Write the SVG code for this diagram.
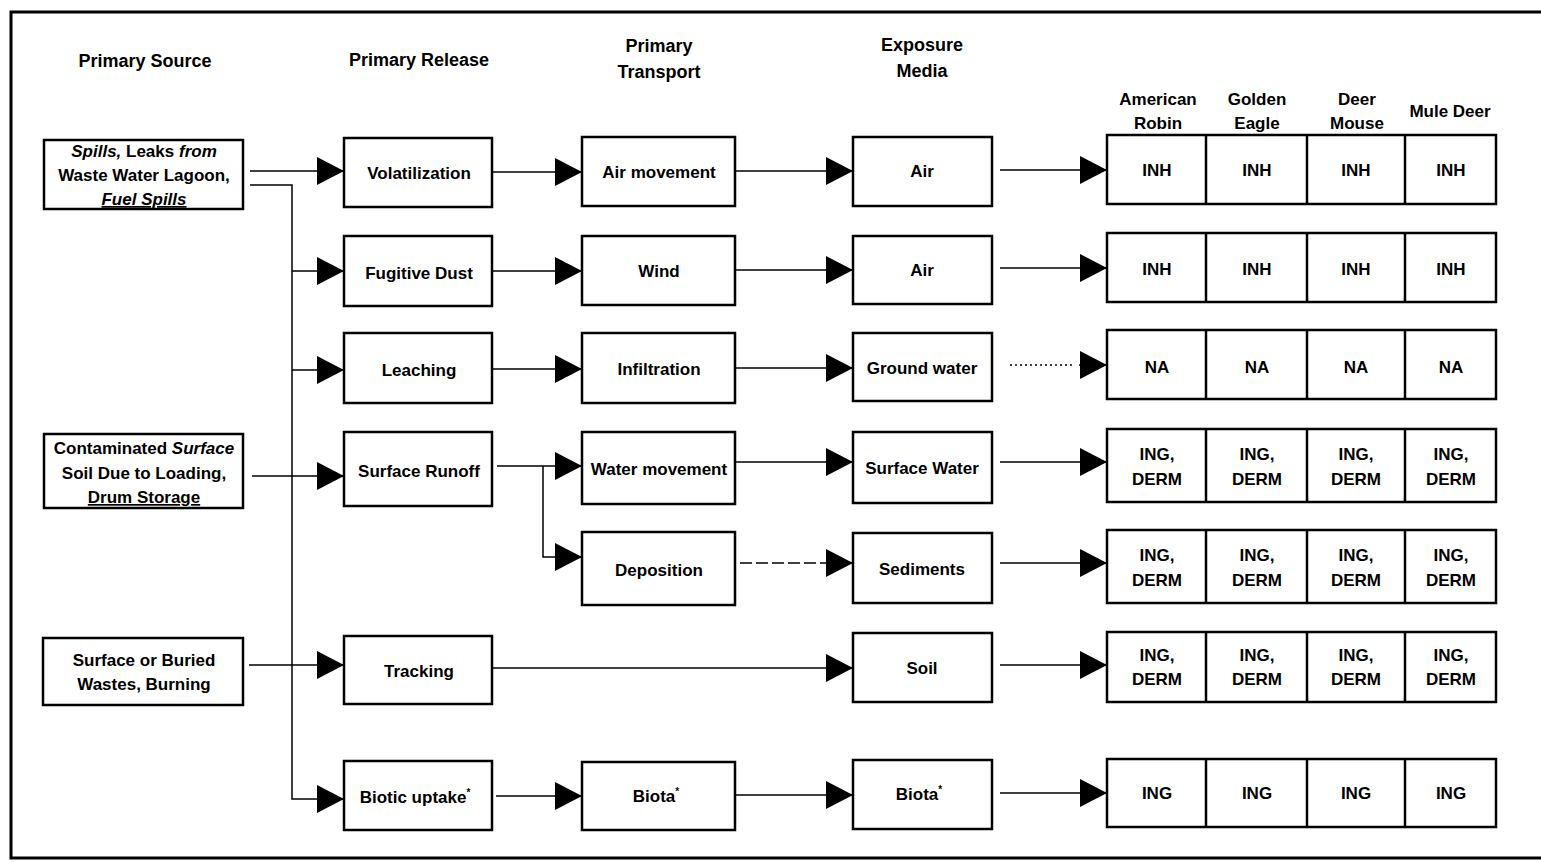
<svg xmlns="http://www.w3.org/2000/svg" width="1541" height="862" viewBox="0 0 1541 862">
<style>
  text { font-family: "Liberation Sans", Arial, sans-serif; font-weight: bold; fill: #000; text-anchor: middle; }
  .hd { font-size: 18px; }
  .rh { font-size: 17px; }
  .t { font-size: 17px; }
  .box { fill: #fff; stroke: #000; stroke-width: 2.5; }
  .cell { fill: none; stroke: #000; stroke-width: 2.5; }
  .ln { fill: none; stroke: #000; stroke-width: 1.5; }
  .it { font-style: italic; }
  .ul { text-decoration: underline; }
  .sup { font-size: 10px; }
</style>
<defs>
  <marker id="ah" markerUnits="userSpaceOnUse" markerWidth="27" markerHeight="28" refX="27" refY="14" orient="auto">
    <path d="M0,0 L27,14 L0,28 Z" fill="#000"/>
  </marker>
</defs>
<rect x="11" y="12" width="1540" height="846" fill="none" stroke="#000" stroke-width="3"/>

<g id="headers">
  <text class="hd" x="145" y="67">Primary Source</text>
  <text class="hd" x="419" y="66">Primary Release</text>
  <text class="hd" x="659" y="52">Primary</text>
  <text class="hd" x="659" y="78">Transport</text>
  <text class="hd" x="922" y="51">Exposure</text>
  <text class="hd" x="922" y="77">Media</text>
  <text class="rh" x="1158" y="105">American</text>
  <text class="rh" x="1158" y="129">Robin</text>
  <text class="rh" x="1257" y="105">Golden</text>
  <text class="rh" x="1257" y="129">Eagle</text>
  <text class="rh" x="1357" y="105">Deer</text>
  <text class="rh" x="1357" y="129">Mouse</text>
  <text class="rh" x="1450" y="117">Mule Deer</text>
</g>

<g id="connectors">
  <!-- sources to releases -->
  <line class="ln" x1="250" y1="171" x2="344" y2="171" marker-end="url(#ah)"/>
  <polyline class="ln" points="250,185 292,185 292,799 344,799" marker-end="url(#ah)"/>
  <line class="ln" x1="292" y1="271" x2="344" y2="271" marker-end="url(#ah)"/>
  <line class="ln" x1="292" y1="370" x2="344" y2="370" marker-end="url(#ah)"/>
  <line class="ln" x1="252" y1="476" x2="344" y2="476" marker-end="url(#ah)"/>
  <line class="ln" x1="249" y1="665" x2="344" y2="665" marker-end="url(#ah)"/>
  <!-- releases to transport -->
  <line class="ln" x1="492" y1="172" x2="582" y2="172" marker-end="url(#ah)"/>
  <line class="ln" x1="492" y1="271" x2="582" y2="271" marker-end="url(#ah)"/>
  <line class="ln" x1="492" y1="369" x2="582" y2="369" marker-end="url(#ah)"/>
  <polyline class="ln" points="497,466 582,466" marker-end="url(#ah)"/>
  <polyline class="ln" points="543,466 543,557 582,557" marker-end="url(#ah)"/>
  <line class="ln" x1="492" y1="668" x2="853" y2="668" marker-end="url(#ah)"/>
  <line class="ln" x1="496" y1="796" x2="582" y2="796" marker-end="url(#ah)"/>
  <!-- transport to exposure -->
  <line class="ln" x1="735" y1="171" x2="853" y2="171" marker-end="url(#ah)"/>
  <line class="ln" x1="735" y1="270" x2="853" y2="270" marker-end="url(#ah)"/>
  <line class="ln" x1="735" y1="368" x2="853" y2="368" marker-end="url(#ah)"/>
  <line class="ln" x1="735" y1="462" x2="853" y2="462" marker-end="url(#ah)"/>
  <line class="ln" x1="740" y1="563" x2="826" y2="563" stroke-dasharray="12,4"/>
  <line class="ln" x1="826" y1="563" x2="853" y2="563" marker-end="url(#ah)"/>
  <line class="ln" x1="735" y1="795" x2="853" y2="795" marker-end="url(#ah)"/>
  <!-- exposure to receptors -->
  <line class="ln" x1="1000" y1="170" x2="1107" y2="170" marker-end="url(#ah)"/>
  <line class="ln" x1="1000" y1="268" x2="1107" y2="268" marker-end="url(#ah)"/>
  <line class="ln" x1="1010" y1="365" x2="1072" y2="365" stroke-dasharray="2,3"/>
  <line class="ln" x1="1079" y1="365" x2="1107" y2="365" marker-end="url(#ah)"/>
  <line class="ln" x1="1000" y1="462" x2="1107" y2="462" marker-end="url(#ah)"/>
  <line class="ln" x1="1000" y1="563" x2="1107" y2="563" marker-end="url(#ah)"/>
  <line class="ln" x1="1000" y1="665" x2="1107" y2="665" marker-end="url(#ah)"/>
  <line class="ln" x1="1000" y1="793" x2="1107" y2="793" marker-end="url(#ah)"/>
</g>

<g id="src1">
  <rect class="box" x="44" y="140" width="199" height="69"/>
  <text class="t" x="144" y="157"><tspan class="it">Spills,</tspan> Leaks <tspan class="it">from</tspan></text>
  <text class="t" x="144" y="181">Waste Water Lagoon,</text>
  <text class="t it ul" x="144" y="205">Fuel Spills</text>
</g>
<g id="src2">
  <rect class="box" x="44" y="434" width="199" height="74"/>
  <text class="t" x="144" y="454">Contaminated <tspan class="it">Surface</tspan></text>
  <text class="t" x="144" y="479">Soil Due to Loading,</text>
  <text class="t ul" x="144" y="503">Drum Storage</text>
</g>
<g id="src3">
  <rect class="box" x="43" y="638" width="200" height="67"/>
  <text class="t" x="144" y="666">Surface or Buried</text>
  <text class="t" x="144" y="690">Wastes, Burning</text>
</g>

<g id="rel-volatilization">
  <rect class="box" x="344" y="138" width="148" height="69"/>
  <text class="t" x="419" y="179">Volatilization</text>
</g>
<g id="rel-fugitive">
  <rect class="box" x="344" y="236" width="148" height="70"/>
  <text class="t" x="419" y="279">Fugitive Dust</text>
</g>
<g id="rel-leaching">
  <rect class="box" x="344" y="333" width="148" height="70"/>
  <text class="t" x="419" y="376">Leaching</text>
</g>
<g id="rel-runoff">
  <rect class="box" x="344" y="432" width="148" height="74"/>
  <text class="t" x="419" y="477">Surface Runoff</text>
</g>
<g id="rel-tracking">
  <rect class="box" x="344" y="636" width="148" height="68"/>
  <text class="t" x="419" y="677">Tracking</text>
</g>
<g id="rel-biotic">
  <rect class="box" x="344" y="761" width="148" height="69"/>
  <text class="t" x="415" y="803">Biotic uptake<tspan class="sup" dy="-7">*</tspan></text>
</g>

<g id="tr-air">
  <rect class="box" x="582" y="137" width="153" height="69"/>
  <text class="t" x="659" y="178">Air movement</text>
</g>
<g id="tr-wind">
  <rect class="box" x="582" y="236" width="153" height="69"/>
  <text class="t" x="659" y="277">Wind</text>
</g>
<g id="tr-infiltration">
  <rect class="box" x="582" y="333" width="153" height="70"/>
  <text class="t" x="659" y="375">Infiltration</text>
</g>
<g id="tr-water">
  <rect class="box" x="582" y="432" width="153" height="72"/>
  <text class="t" x="659" y="475">Water movement</text>
</g>
<g id="tr-deposition">
  <rect class="box" x="582" y="532" width="153" height="73"/>
  <text class="t" x="659" y="576">Deposition</text>
</g>
<g id="tr-biota">
  <rect class="box" x="582" y="762" width="153" height="68"/>
  <text class="t" x="656" y="802">Biota<tspan class="sup" dy="-7">*</tspan></text>
</g>

<g id="ex-air1">
  <rect class="box" x="853" y="137" width="139" height="69"/>
  <text class="t" x="922" y="177">Air</text>
</g>
<g id="ex-air2">
  <rect class="box" x="853" y="236" width="139" height="68"/>
  <text class="t" x="922" y="276">Air</text>
</g>
<g id="ex-groundwater">
  <rect class="box" x="853" y="333" width="139" height="68"/>
  <text class="t" x="922" y="374">Ground water</text>
</g>
<g id="ex-surfacewater">
  <rect class="box" x="853" y="432" width="139" height="71"/>
  <text class="t" x="922" y="474">Surface Water</text>
</g>
<g id="ex-sediments">
  <rect class="box" x="853" y="533" width="139" height="70"/>
  <text class="t" x="922" y="575">Sediments</text>
</g>
<g id="ex-soil">
  <rect class="box" x="853" y="633" width="139" height="69"/>
  <text class="t" x="922" y="674">Soil</text>
</g>
<g id="ex-biota">
  <rect class="box" x="853" y="760" width="139" height="69"/>
  <text class="t" x="919" y="800">Biota<tspan class="sup" dy="-7">*</tspan></text>
</g>

<g id="rc-row1">
  <rect class="cell" x="1107" y="135" width="389" height="69"/>
  <line class="cell" x1="1206" y1="135" x2="1206" y2="204"/>
  <line class="cell" x1="1307" y1="135" x2="1307" y2="204"/>
  <line class="cell" x1="1405" y1="135" x2="1405" y2="204"/>
  <text class="t" x="1157" y="176">INH</text>
  <text class="t" x="1257" y="176">INH</text>
  <text class="t" x="1356" y="176">INH</text>
  <text class="t" x="1451" y="176">INH</text>
</g>
<g id="rc-row2">
  <rect class="cell" x="1107" y="233" width="389" height="69"/>
  <line class="cell" x1="1206" y1="233" x2="1206" y2="302"/>
  <line class="cell" x1="1307" y1="233" x2="1307" y2="302"/>
  <line class="cell" x1="1405" y1="233" x2="1405" y2="302"/>
  <text class="t" x="1157" y="275">INH</text>
  <text class="t" x="1257" y="275">INH</text>
  <text class="t" x="1356" y="275">INH</text>
  <text class="t" x="1451" y="275">INH</text>
</g>
<g id="rc-row3">
  <rect class="cell" x="1107" y="330" width="389" height="69"/>
  <line class="cell" x1="1206" y1="330" x2="1206" y2="399"/>
  <line class="cell" x1="1307" y1="330" x2="1307" y2="399"/>
  <line class="cell" x1="1405" y1="330" x2="1405" y2="399"/>
  <text class="t" x="1157" y="373">NA</text>
  <text class="t" x="1257" y="373">NA</text>
  <text class="t" x="1356" y="373">NA</text>
  <text class="t" x="1451" y="373">NA</text>
</g>
<g id="rc-row4">
  <rect class="cell" x="1107" y="429" width="389" height="73"/>
  <line class="cell" x1="1206" y1="429" x2="1206" y2="502"/>
  <line class="cell" x1="1307" y1="429" x2="1307" y2="502"/>
  <line class="cell" x1="1405" y1="429" x2="1405" y2="502"/>
  <text class="t" x="1157" y="460">ING,</text><text class="t" x="1157" y="485">DERM</text>
  <text class="t" x="1257" y="460">ING,</text><text class="t" x="1257" y="485">DERM</text>
  <text class="t" x="1356" y="460">ING,</text><text class="t" x="1356" y="485">DERM</text>
  <text class="t" x="1451" y="460">ING,</text><text class="t" x="1451" y="485">DERM</text>
</g>
<g id="rc-row5">
  <rect class="cell" x="1107" y="530" width="389" height="73"/>
  <line class="cell" x1="1206" y1="530" x2="1206" y2="603"/>
  <line class="cell" x1="1307" y1="530" x2="1307" y2="603"/>
  <line class="cell" x1="1405" y1="530" x2="1405" y2="603"/>
  <text class="t" x="1157" y="561">ING,</text><text class="t" x="1157" y="586">DERM</text>
  <text class="t" x="1257" y="561">ING,</text><text class="t" x="1257" y="586">DERM</text>
  <text class="t" x="1356" y="561">ING,</text><text class="t" x="1356" y="586">DERM</text>
  <text class="t" x="1451" y="561">ING,</text><text class="t" x="1451" y="586">DERM</text>
</g>
<g id="rc-row6">
  <rect class="cell" x="1107" y="632" width="389" height="70"/>
  <line class="cell" x1="1206" y1="632" x2="1206" y2="702"/>
  <line class="cell" x1="1307" y1="632" x2="1307" y2="702"/>
  <line class="cell" x1="1405" y1="632" x2="1405" y2="702"/>
  <text class="t" x="1157" y="661">ING,</text><text class="t" x="1157" y="685">DERM</text>
  <text class="t" x="1257" y="661">ING,</text><text class="t" x="1257" y="685">DERM</text>
  <text class="t" x="1356" y="661">ING,</text><text class="t" x="1356" y="685">DERM</text>
  <text class="t" x="1451" y="661">ING,</text><text class="t" x="1451" y="685">DERM</text>
</g>
<g id="rc-row7">
  <rect class="cell" x="1107" y="759" width="389" height="68"/>
  <line class="cell" x1="1206" y1="759" x2="1206" y2="827"/>
  <line class="cell" x1="1307" y1="759" x2="1307" y2="827"/>
  <line class="cell" x1="1405" y1="759" x2="1405" y2="827"/>
  <text class="t" x="1157" y="799">ING</text>
  <text class="t" x="1257" y="799">ING</text>
  <text class="t" x="1356" y="799">ING</text>
  <text class="t" x="1451" y="799">ING</text>
</g>
</svg>
